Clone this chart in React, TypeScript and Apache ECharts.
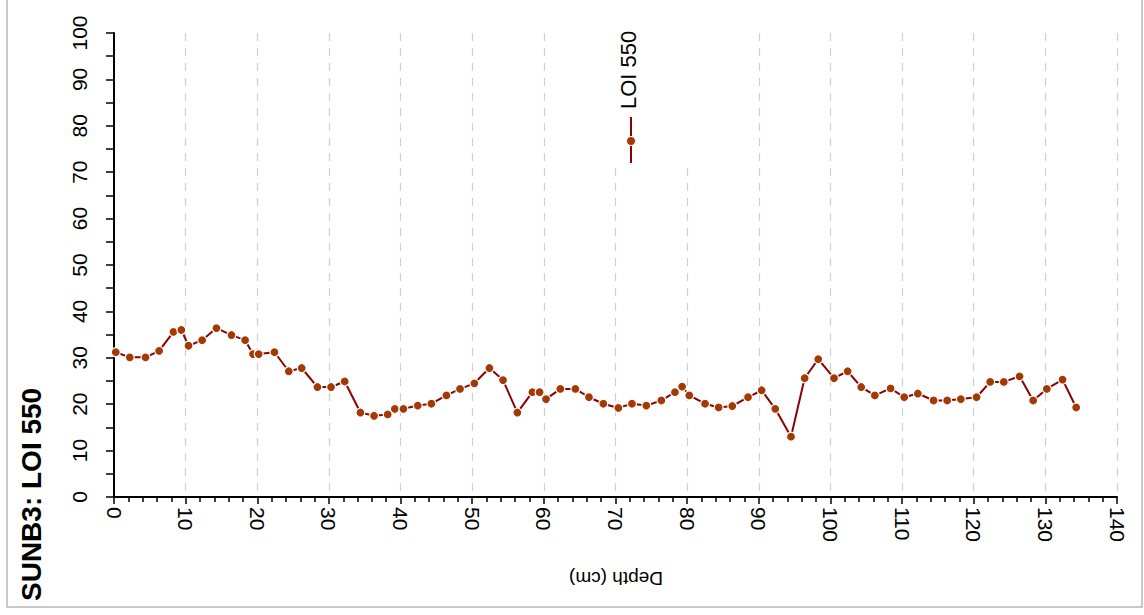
import React, { useEffect, useRef } from "react";
import * as echarts from "echarts";

// Depth (cm) of each sample and its loss-on-ignition value (%)
const depths: number[] = [
  0.25, 2.2, 4.4, 6.3, 8.3, 9.4, 10.4, 12.3, 14.3, 16.4, 18.3, 19.4, 20.2, 22.4,
  24.4, 26.2, 28.4, 30.3, 32.2, 34.4, 36.3, 38.2, 39.2, 40.4, 42.4, 44.3, 46.4,
  48.3, 50.3, 52.4, 54.3, 56.3, 58.4, 59.4, 60.3, 62.3, 64.4, 66.3, 68.3, 70.4,
  72.3, 74.3, 76.4, 78.3, 79.3, 80.3, 82.5, 84.4, 86.3, 88.5, 90.4, 92.3, 94.5,
  96.4, 98.3, 100.5, 102.4, 104.3, 106.2, 108.4, 110.3, 112.2, 114.4, 116.3,
  118.2, 120.4, 122.3, 124.2, 126.4, 128.3, 130.2, 132.4, 134.3,
];
const loi550: number[] = [
  31.2, 30.1, 30.1, 31.5, 35.6, 36.0, 32.6, 33.8, 36.4, 34.9, 33.8, 30.8, 30.8,
  31.2, 27.1, 27.8, 23.7, 23.7, 24.9, 18.2, 17.5, 17.8, 19.0, 19.0, 19.7, 20.1,
  21.9, 23.3, 24.5, 27.8, 25.2, 18.2, 22.6, 22.6, 21.1, 23.3, 23.3, 21.5, 20.1,
  19.2, 20.1, 19.7, 20.8, 22.6, 23.8, 21.9, 20.1, 19.3, 19.6, 21.5, 23.0, 19.0,
  13.0, 25.6, 29.7, 25.6, 27.1, 23.7, 21.9, 23.4, 21.5, 22.3, 20.8, 20.8, 21.1,
  21.5, 24.8, 24.8, 26.0, 20.8, 23.3, 25.3, 19.3,
];

const seriesName = "LOI 550";
const chartTitle = "SUNB3: LOI 550";
const xAxisTitle = "Depth (cm)";

const FONT = "'Liberation Sans', Arial, sans-serif";
const LINE_COLOR = "#8b0000";
const POINT_COLOR = "#a33a06";

export default function App() {
  const ref = useRef<HTMLDivElement>(null);

  useEffect(() => {
    if (!ref.current) return;
    const chart = echarts.init(ref.current, undefined, { renderer: "svg" });
    const data = depths.map((d, i) => [d, loi550[i]]);

    chart.setOption({
      animation: false,
      backgroundColor: "#ffffff",
      grid: { left: 114, right: 27, top: 33, bottom: 118, containLabel: false },
      xAxis: {
        type: "value",
        min: 0,
        max: 140,
        interval: 10,
        axisLine: { show: true, onZero: false, lineStyle: { color: "#000", width: 2 } },
        axisTick: { show: true, length: 7, lineStyle: { color: "#000", width: 1.5 } },
        minorTick: { show: true, splitNumber: 5, length: 5, lineStyle: { color: "#000", width: 1.5 } },
        axisLabel: {
          rotate: -90,
          margin: 10,
          color: "#000",
          fontSize: 21,
          fontFamily: FONT,
        },
        splitLine: {
          show: true,
          lineStyle: { color: "#cfcfcf", type: [8, 7], width: 1.2 },
        },
      },
      yAxis: {
        type: "value",
        min: 0,
        max: 100,
        interval: 10,
        axisLine: { show: true, onZero: false, lineStyle: { color: "#000", width: 2 } },
        axisTick: { show: true, length: 8, lineStyle: { color: "#000", width: 1.5 } },
        minorTick: { show: true, splitNumber: 2, length: 8, lineStyle: { color: "#000", width: 1.5 } },
        axisLabel: {
          rotate: 90,
          margin: 24,
          color: "#000",
          fontSize: 21,
          fontFamily: FONT,
        },
        splitLine: { show: false },
      },
      series: [
        {
          name: seriesName,
          type: "line",
          data,
          symbol: "circle",
          symbolSize: 9,
          showAllSymbol: true,
          lineStyle: { color: LINE_COLOR, width: 2 },
          itemStyle: { color: POINT_COLOR, borderColor: "#ffffff", borderWidth: 1.2 },
          z: 3,
        },
      ],
      graphic: [
        // outer frame
        {
          type: "rect",
          shape: { x: 7, y: -10, width: 1135, height: 617 },
          style: { fill: "none", stroke: "#c8c8c8", lineWidth: 2 },
          silent: true,
          z: 1,
        },
        // legend background
        {
          type: "rect",
          shape: { x: 600, y: 30, width: 95, height: 138 },
          style: { fill: "#ffffff" },
          silent: true,
          z: 5,
        },
        {
          type: "line",
          shape: { x1: 631, y1: 117, x2: 631, y2: 163 },
          style: { stroke: LINE_COLOR, lineWidth: 2 },
          silent: true,
          z: 6,
        },
        {
          type: "circle",
          shape: { cx: 631, cy: 141, r: 4.5 },
          style: { fill: POINT_COLOR, stroke: "#fff", lineWidth: 1 },
          silent: true,
          z: 7,
        },
        {
          type: "text",
          x: 628,
          y: 109,
          rotation: Math.PI / 2,
          style: {
            text: seriesName,
            fill: "#000",
            font: `22px ${FONT}`,
            textAlign: "left",
            textVerticalAlign: "middle",
          },
          silent: true,
          z: 7,
        },
        // x-axis title
        {
          type: "text",
          x: 616,
          y: 578,
          rotation: Math.PI,
          style: {
            text: xAxisTitle,
            fill: "#000",
            font: `19px ${FONT}`,
            textAlign: "center",
            textVerticalAlign: "middle",
          },
          silent: true,
          z: 7,
        },
        // chart title
        {
          type: "text",
          x: 31,
          y: 601,
          rotation: Math.PI / 2,
          style: {
            text: chartTitle,
            fill: "#000",
            font: `bold 28px ${FONT}`,
            textAlign: "left",
            textVerticalAlign: "middle",
          },
          silent: true,
          z: 7,
        },
      ],
    });

    return () => chart.dispose();
  }, []);

  return (
    <div
      ref={ref}
      style={{ position: "fixed", left: 0, top: 0, width: 1144, height: 615 }}
    />
  );
}
